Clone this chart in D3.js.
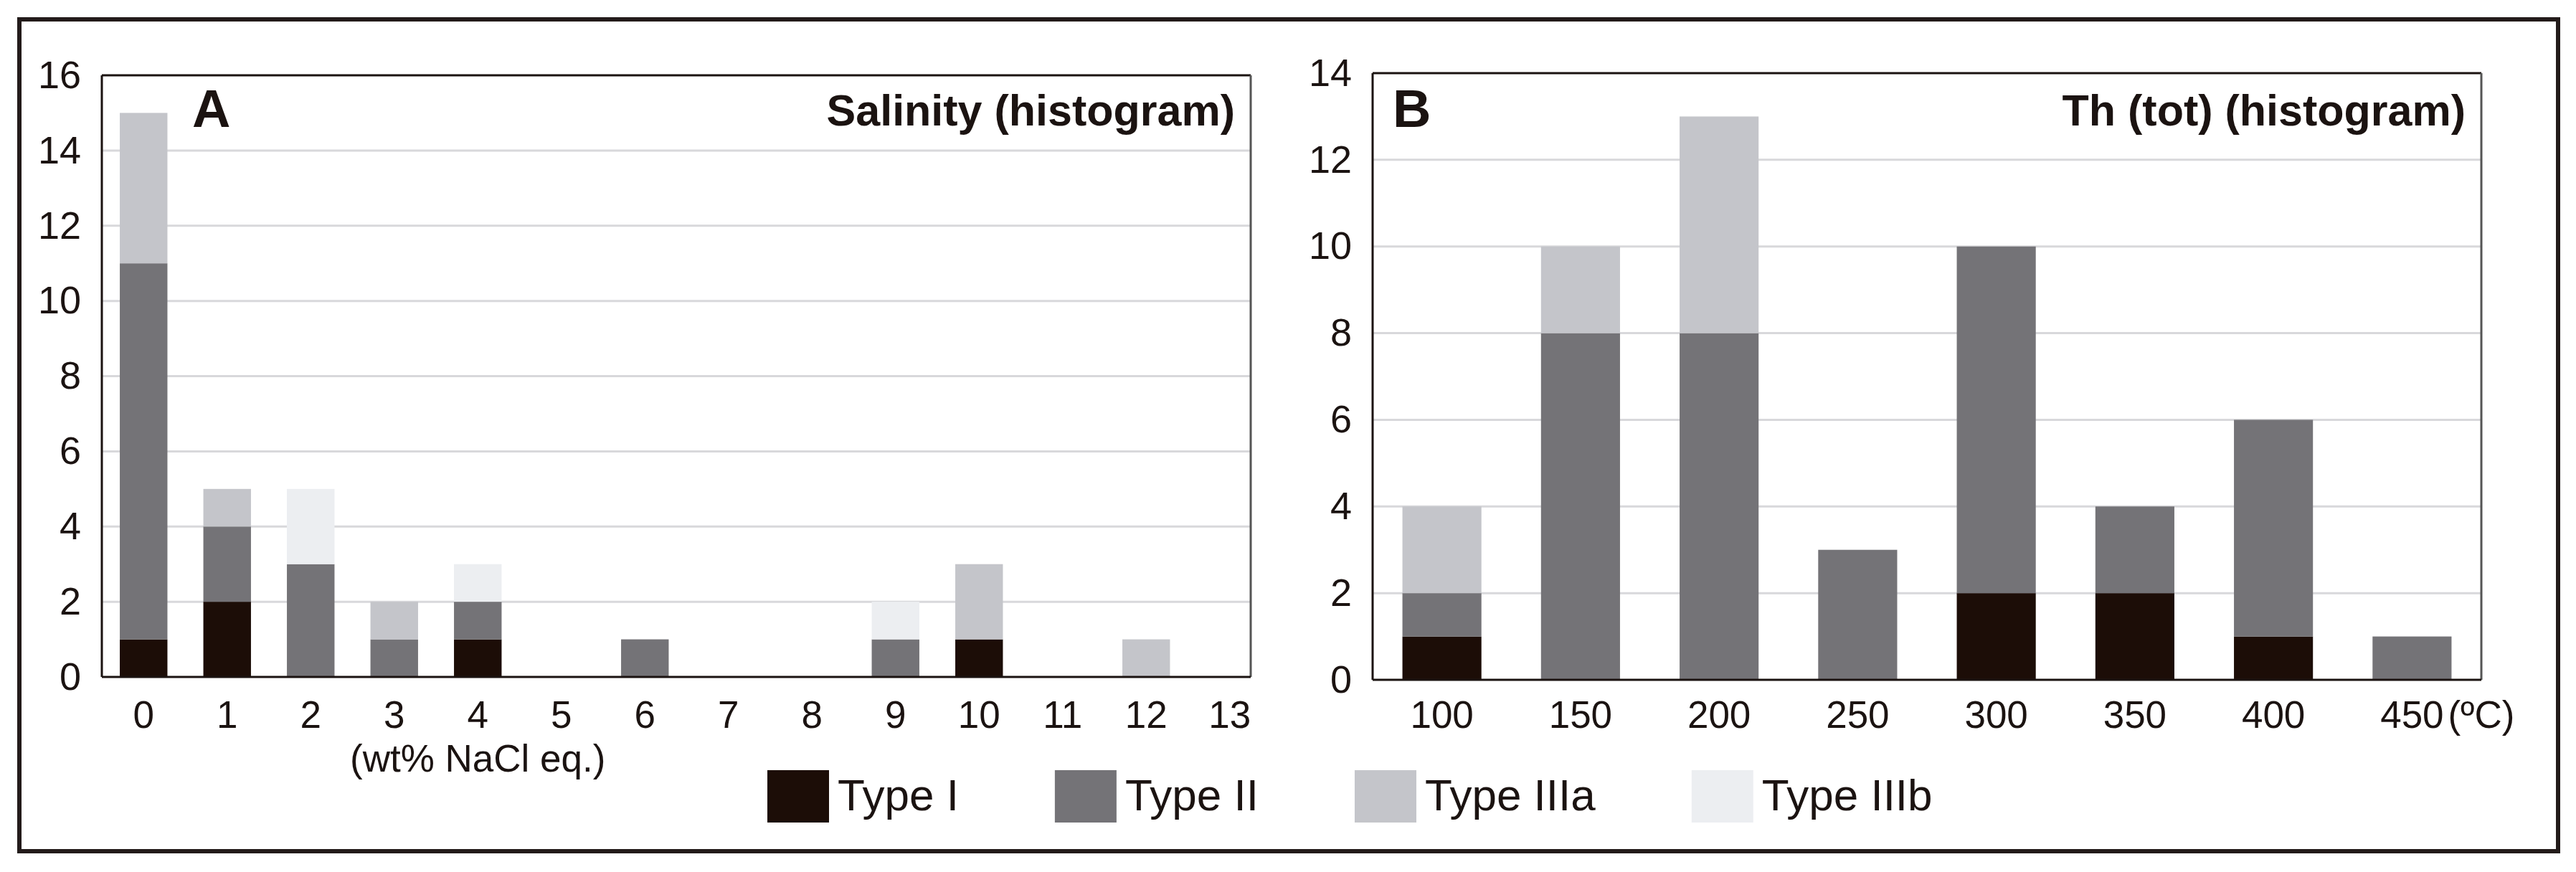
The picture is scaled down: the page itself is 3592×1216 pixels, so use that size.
<!DOCTYPE html>
<html><head><meta charset="utf-8">
<script src="https://cdn.jsdelivr.net/npm/d3@7"></script>
<style>
body{margin:0;background:#fff}
svg{display:block}
text{font-family:"Liberation Sans",Arial,Helvetica,sans-serif;fill:#1b1311}
</style>
</head><body>
<svg id="c" width="3592" height="1216"></svg>
<script>
// ---------- data ----------
const seriesNames  = ["Type I", "Type II", "Type IIIa", "Type IIIb"];
const seriesColors = ["#1c0d07", "#747377", "#c4c5ca", "#eceef1"];

const salinityCats   = ["0","1","2","3","4","5","6","7","8","9","10","11","12","13"];
const salTypeI       = [1, 2, 0, 0, 1, 0, 0, 0, 0, 0, 1, 0, 0, 0];
const salTypeII      = [10,2, 3, 1, 1, 0, 1, 0, 0, 1, 0, 0, 0, 0];
const salTypeIIIa    = [4, 1, 0, 1, 0, 0, 0, 0, 0, 0, 2, 0, 1, 0];
const salTypeIIIb    = [0, 0, 2, 0, 1, 0, 0, 0, 0, 1, 0, 0, 0, 0];
const salTicks       = [0, 2, 4, 6, 8, 10, 12, 14, 16];

const thCats         = ["100","150","200","250","300","350","400","450"];
const thTypeI        = [1, 0, 0, 0, 2, 2, 1, 0];
const thTypeII       = [1, 8, 8, 3, 8, 2, 5, 1];
const thTypeIIIa     = [2, 2, 5, 0, 0, 0, 0, 0];
const thTypeIIIb     = [0, 0, 0, 0, 0, 0, 0, 0];
const thTicks        = [0, 2, 4, 6, 8, 10, 12, 14];

const svg = d3.select("#c");

// outer frame
svg.append("rect").attr("x", 27).attr("y", 27).attr("width", 3540).attr("height", 1160)
  .attr("fill", "none").attr("stroke", "#231b1a").attr("stroke-width", 6);

function drawPanel(o) {
  const rows = o.cats.map((c, i) => {
    const r = {cat: c};
    seriesNames.forEach((s, j) => r[s] = o.series[j][i]);
    return r;
  });
  const x = d3.scaleBand().domain(o.cats)
    .range([o.left, o.left + o.step * o.cats.length])
    .paddingInner(0.43).paddingOuter(0.215);
  const y = d3.scaleLinear().domain([0, o.ymax]).range([o.bottom, o.top]);
  const g = svg.append("g");

  // gridlines
  g.selectAll("line.grid").data(o.ticks.filter(t => t > 0 && t < o.ymax)).join("line")
    .attr("x1", o.left).attr("x2", o.right)
    .attr("y1", d => y(d)).attr("y2", d => y(d))
    .attr("stroke", "#d8d8db").attr("stroke-width", 3);

  // bars
  const stack = d3.stack().keys(seriesNames)(rows);
  stack.forEach((layer, j) => {
    g.append("g").attr("fill", seriesColors[j])
      .selectAll("rect").data(layer.filter(d => d[1] > d[0])).join("rect")
      .attr("x", d => x(d.data.cat))
      .attr("width", x.bandwidth())
      .attr("y", d => y(d[1]))
      .attr("height", d => y(d[0]) - y(d[1]));
  });

  // plot frame
  g.append("line").attr("x1", o.left).attr("x2", o.right).attr("y1", o.top).attr("y2", o.top)
    .attr("stroke", "#1b1311").attr("stroke-width", 3);
  g.append("line").attr("x1", o.left).attr("x2", o.left).attr("y1", o.top).attr("y2", o.bottom)
    .attr("stroke", "#1b1311").attr("stroke-width", 3);
  g.append("line").attr("x1", o.right).attr("x2", o.right).attr("y1", o.top).attr("y2", o.bottom)
    .attr("stroke", "#555").attr("stroke-width", 3);
  g.append("line").attr("x1", o.left).attr("x2", o.right).attr("y1", o.bottom).attr("y2", o.bottom)
    .attr("stroke", "#1b1311").attr("stroke-width", 3);

  // axes
  const ya = g.append("g").attr("transform", `translate(${o.left},0)`)
    .call(d3.axisLeft(y).tickValues(o.ticks).tickSize(0).tickPadding(29));
  ya.select(".domain").remove();
  ya.selectAll("text").attr("font-size", 54).style("font-family", '"Liberation Sans",Arial,sans-serif').attr("fill", "#1b1311");

  const xa = g.append("g").attr("transform", `translate(0,${o.bottom})`)
    .call(d3.axisBottom(x).tickSize(0).tickPadding(o.xpad));
  xa.select(".domain").remove();
  xa.selectAll("text").attr("font-size", 53).style("font-family", '"Liberation Sans",Arial,sans-serif').attr("fill", "#1b1311");

  // titles
  g.append("text").attr("x", o.letterX).attr("y", 177).attr("font-size", 74)
    .attr("font-weight", "bold").text(o.letter);
  g.append("text").attr("x", o.right - 22).attr("y", 175).attr("font-size", 61)
    .attr("font-weight", "bold").attr("text-anchor", "end").text(o.title);

  return {x, y, xa};
}

const A = drawPanel({
  cats: salinityCats, series: [salTypeI, salTypeII, salTypeIIIa, salTypeIIIb],
  ticks: salTicks, ymax: 16, left: 142, right: 1744, step: 116.5, top: 105, bottom: 944,
  xpad: 33, title: "Salinity (histogram)", letter: "A", letterX: 268
});
svg.append("text").attr("x", A.x("4") + A.x.bandwidth() / 2).attr("y", 1076)
  .attr("font-size", 53).attr("text-anchor", "middle").text("(wt% NaCl eq.)");

const B = drawPanel({
  cats: thCats, series: [thTypeI, thTypeII, thTypeIIIa, thTypeIIIb],
  ticks: thTicks, ymax: 14, left: 1914, right: 3460, step: 193.25, top: 102, bottom: 948,
  xpad: 29, title: "Th (tot) (histogram)", letter: "B", letterX: 1942
});
// unit after the last tick label
const lastTick = B.xa.selectAll(".tick").filter(d => d === "450");
lastTick.append("text").attr("x", 50).attr("y", 29).attr("dy", "0.71em")
  .attr("font-size", 53).attr("text-anchor", "start")
  .style("font-family", '"Liberation Sans",Arial,sans-serif').attr("fill", "#1b1311")
  .text("(ºC)");

// legend
const leg = svg.append("g");
let lx = 1070;
seriesNames.forEach((s, i) => {
  leg.append("rect").attr("x", lx).attr("y", 1074).attr("width", 86).attr("height", 73)
    .attr("fill", seriesColors[i]);
  const t = leg.append("text").attr("x", lx + 98).attr("y", 1130).attr("font-size", 62).text(s);
  lx = lx + 98 + t.node().getComputedTextLength() + 134;
});
</script>
</body></html>
